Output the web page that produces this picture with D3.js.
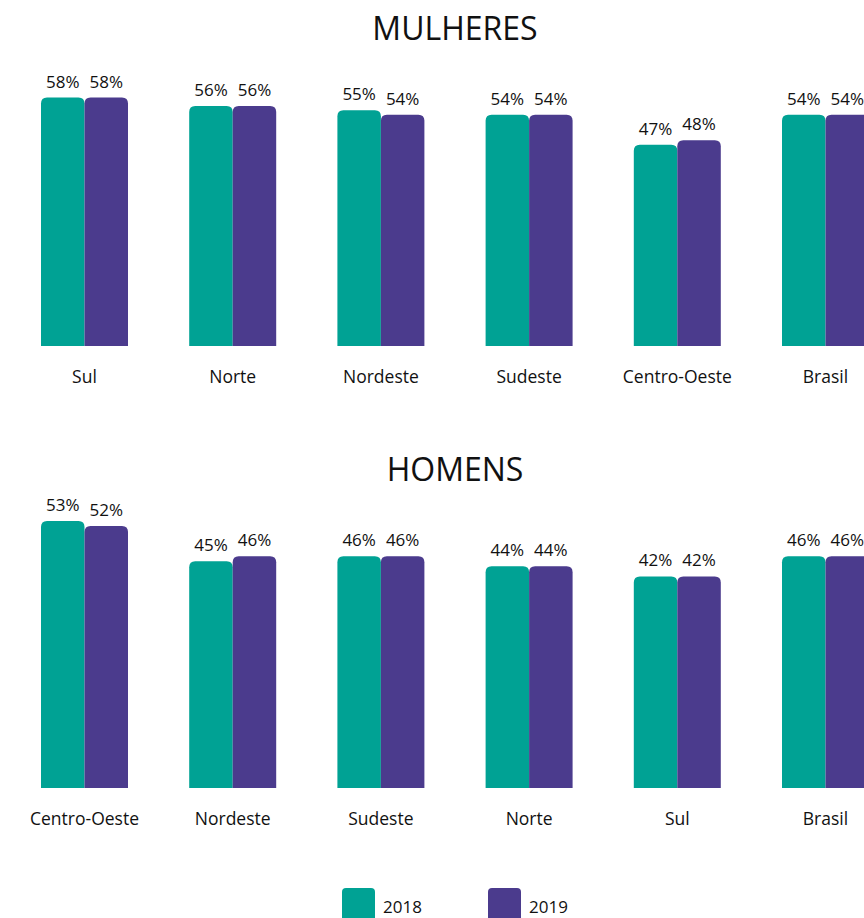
<!DOCTYPE html>
<html>
<head>
<meta charset="utf-8">
<script src="https://cdn.jsdelivr.net/npm/d3@7"></script>
<style>
  body { margin: 0; background: #fff; overflow: hidden; }
  text { font-family: "Open Sans", "Noto Sans", sans-serif; fill: #111; }
</style>
</head>
<body>
<div id="chart"></div>
<script>
// data
const years = ['2018', '2019'];
const mulheresCats = ['Sul', 'Norte', 'Nordeste', 'Sudeste', 'Centro-Oeste', 'Brasil'];
const mulheres2018 = [58, 56, 55, 54, 47, 54];
const mulheres2019 = [58, 56, 54, 54, 48, 54];
const homensCats = ['Centro-Oeste', 'Nordeste', 'Sudeste', 'Norte', 'Sul', 'Brasil'];
const homens2018 = [53, 45, 46, 44, 42, 46];
const homens2019 = [52, 46, 46, 44, 42, 46];

const colors = { '2018': '#00a294', '2019': '#4b3b8d' };

const width = 864, height = 918;
const svg = d3.select('#chart').append('svg')
  .attr('width', width)
  .attr('height', height);

// top-rounded bar path
function barPath(x, y, w, h, r) {
  r = Math.min(r, w / 2, h);
  return `M${x},${y + h}V${y + r}Q${x},${y} ${x + r},${y}H${x + w - r}Q${x + w},${y} ${x + w},${y + r}V${y + h}Z`;
}

function panel(opts) {
  const { title, titleY, cats, s2018, s2019, baseY, topY, labelY } = opts;
  const rows = cats.map((c, i) => ({ cat: c, '2018': s2018[i], '2019': s2019[i] }));

  const x0 = d3.scaleBand()
    .domain(cats)
    .range([10.4, 899.6])
    .paddingInner(0.413)
    .paddingOuter(0.2065);

  const x1 = d3.scaleBand()
    .domain(years)
    .range([0, x0.bandwidth()]);

  const maxV = d3.max(rows, d => Math.max(d['2018'], d['2019']));
  const y = d3.scaleLinear()
    .domain([0, maxV])
    .range([baseY, topY]);

  svg.append('text')
    .attr('x', 455)
    .attr('y', titleY)
    .attr('text-anchor', 'middle')
    .style('font-size', '32px')
    .text(title);

  const g = svg.append('g');

  const groups = g.selectAll('.grp')
    .data(rows)
    .enter().append('g')
    .attr('class', 'grp')
    .attr('transform', d => `translate(${x0(d.cat)},0)`);

  const bars = groups.selectAll('.bar')
    .data(d => years.map(k => ({ key: k, value: d[k] })))
    .enter();

  bars.append('path')
    .attr('class', 'bar')
    .attr('d', d => barPath(x1(d.key), y(d.value), x1.bandwidth(), baseY - y(d.value), 6))
    .attr('fill', d => colors[d.key]);

  bars.append('text')
    .attr('x', d => x1(d.key) + x1.bandwidth() / 2)
    .attr('y', d => y(d.value) - 10)
    .attr('text-anchor', 'middle')
    .style('font-size', '17px')
    .text(d => d.value + '%');

  groups.append('text')
    .attr('x', x0.bandwidth() / 2)
    .attr('y', labelY)
    .attr('text-anchor', 'middle')
    .style('font-size', '17.5px')
    .text(d => d.cat);
}

panel({
  title: 'MULHERES', titleY: 40,
  cats: mulheresCats, s2018: mulheres2018, s2019: mulheres2019,
  baseY: 346, topY: 97.5, labelY: 383
});

panel({
  title: 'HOMENS', titleY: 481,
  cats: homensCats, s2018: homens2018, s2019: homens2019,
  baseY: 788, topY: 521, labelY: 825
});

// legend
const legend = svg.append('g');
const legendX = d3.scalePoint().domain(years).range([342, 488]);
const items = legend.selectAll('.leg')
  .data(years)
  .enter().append('g')
  .attr('transform', d => `translate(${legendX(d)},888)`);

items.append('rect')
  .attr('width', 33)
  .attr('height', 33)
  .attr('rx', 4)
  .attr('fill', d => colors[d]);

items.append('text')
  .attr('x', 41)
  .attr('y', 25)
  .style('font-size', '17px')
  .text(d => d);
</script>
</body>
</html>
